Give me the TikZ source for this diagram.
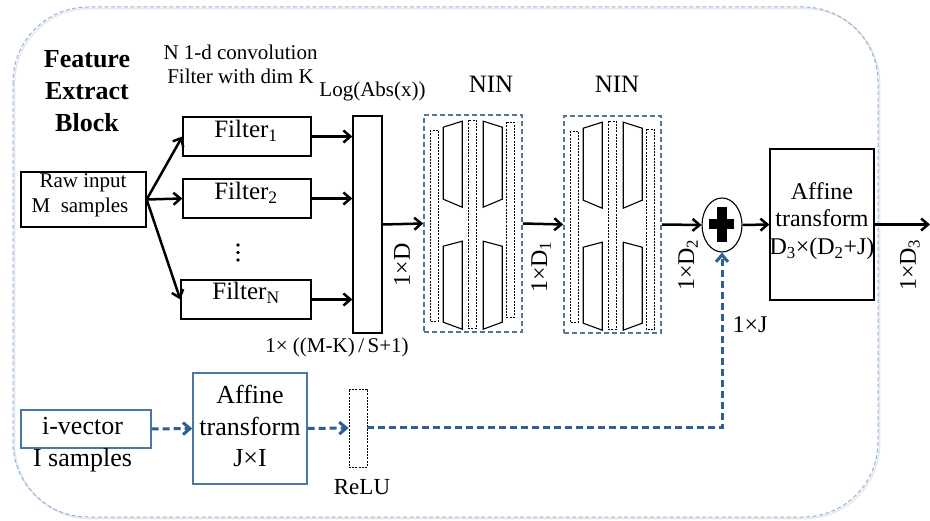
\documentclass[tikz,border=0pt]{standalone}
\usepackage{fontspec}
\setmainfont{Liberation Serif}
\usetikzlibrary{arrows.meta,shapes.geometric}
\definecolor{outerblue}{RGB}{141,180,226}
\definecolor{ninblue}{RGB}{88,118,152}
\definecolor{pathblue}{RGB}{46,94,148}
\definecolor{boxblue}{RGB}{74,118,168}

% slats and funnels inside one NIN block; #1 = block node, #2/#3 = top/bottom of last slat
\newcommand\ninparts[3]{%
  \begin{scope}[shift={(#1.north west)}]
    \draw[slat] (7,16) rectangle (15,207);
    \draw[funnel] (20,13) -- (39,7) -- (39,93) -- (20,85) -- cycle;
    \draw[funnel] (20,132) -- (39,127) -- (39,215) -- (20,208) -- cycle;
    \draw[slat] (45,6) rectangle (53,214);
    \draw[funnel] (60,7) -- (79,13) -- (79,85) -- (60,93) -- cycle;
    \draw[funnel] (60,127) -- (79,132) -- (79,208) -- (60,215) -- cycle;
    \draw[slat] (83,#2) rectangle (91,#3);
  \end{scope}}

\begin{document}
\begin{tikzpicture}[x=1pt,y=-1pt,
  blk/.style={draw=black,line width=1.3pt,inner sep=0pt,fill=white},
  bbox/.style={draw=boxblue,line width=1.4pt,inner sep=0pt,fill=white},
  sz/.style 2 args={minimum width=#1pt,minimum height=#2pt},
  ninbox/.style={draw=ninblue,line width=1.6pt,dash pattern=on 5pt off 3pt,inner sep=0pt},
  slat/.style={draw=black,line width=0.8pt,dash pattern=on 2pt off 1.2pt},
  funnel/.style={draw=black,line width=1.1pt},
  arr/.style={-{Straight Barb[length=7pt,width=12pt]},line width=2.5pt},
  darr/.style={-{Straight Barb[length=7pt,width=12pt]},draw=pathblue,line width=3pt,dash pattern=on 7pt off 4pt},
  tx/.style={font=\fontsize{#1}{#1}\selectfont,inner sep=0pt,anchor=base},
  rt/.style={font=\fontsize{24}{24}\selectfont,inner sep=0pt,rotate=90,anchor=center},
  hd/.style={font=\fontsize{26}{26}\selectfont\bfseries,inner sep=0pt,anchor=base}]

\useasboundingbox (0,0) rectangle (930,521);
\fill[white] (0,0) rectangle (930,521);

% outer frame of the feature extraction block, with a faint shadow
\draw[black!9,line width=1.6pt,rounded corners=75pt] (14.5,8.5) rectangle (879.5,518.5);
\draw[outerblue,line width=1pt,dash pattern=on 4pt off 2.5pt,rounded corners=75pt] (13,7) rectangle (878,517);

% title
\node[hd] (h1) at (87,68) {Feature};
\node[hd] (h2) at (87,100) {Extract};
\node[hd] (h3) at (87,132) {Block};

% top captions
\node[tx=21] (c1) at (240.5,60) {N 1-d convolution};
\node[tx=21] (c2) at (240.5,84) {Filter with dim K};
\node[tx=21] (c3) at (372.5,97) {Log(Abs(x))};
\node[tx=25] (n1t) at (491,93) {NIN};
\node[tx=25] (n2t) at (617,93) {NIN};

% raw input and filter bank
\node[blk,sz={125}{55}] (raw) at (83.5,199.5) {};
\node[tx=21] (raw1) at (83,188) {Raw input};
\node[tx=21] (raw2) at (80,213) {M\ \ samples};

\node[blk,sz={128}{39}] (f1) at (247,136.5) {};
\node[blk,sz={128}{39}] (f2) at (247,198.5) {};
\node[blk,sz={130}{39}] (fn) at (246,299.5) {};
\node[tx=25] (f1t) at (246,138) {Filter\textsubscript{1}};
\node[tx=25] (f2t) at (246,200) {Filter\textsubscript{2}};
\node[tx=25] (fnt) at (246,300) {Filter\textsubscript{N}};
% vertical ellipsis between the filters
\foreach \yy in {245,252.5,260} \fill[black] (238,\yy) circle (1.9pt);

\draw[arr] (raw.east) -- (f1.west);
\draw[arr] (raw.east) -- (f2.west);
\draw[arr] (raw.east) -- (fn.west);

% log-abs layer
\node[blk,sz={29}{217}] (lg) at (367.5,224.5) {};
\draw[arr] (f1.east) -- (f1.east -| lg.west);
\draw[arr] (f2.east) -- (f2.east -| lg.west);
\draw[arr] (fn.east) -- (fn.east -| lg.west);
\node[tx=21] (lgsz) at (337,353) {1× ((M-K)\,/\,S+1)};

% NIN blocks
\node[ninbox,sz={98}{217}] (nin1) at (473,223.5) {};
\node[ninbox,sz={97}{217}] (nin2) at (612.5,224.5) {};
\ninparts{nin1}{8}{203}
\ninparts{nin2}{14}{214}

\draw[arr] (lg.east) -- (nin1.west);
\node[rt] (d0) at (402,265) {1×D};
\draw[arr] (nin1.east) -- (nin2.west);
\node[rt] (d1) at (541,267) {1×D\textsubscript{1}};

% summation node
\node[draw=black,line width=1.1pt,ellipse,inner sep=0pt,sz={40}{54},fill=white] (plus) at (722,225) {};
\fill[black] (709,219.5) rectangle (734,229.5);
\fill[black] (717,207) rectangle (727,242);
\draw[arr] (nin2.east) -- (plus.west);
\node[rt] (d2) at (688,265) {1×D\textsubscript{2}};

% output affine transform
\node[blk,sz={104}{151}] (aff2) at (822,224.5) {};
\node[tx=24] (a21) at (822,200) {Affine};
\node[tx=24] (a22) at (822,227) {transform};
\node[tx=24] (a23) at (822,255) {D\textsubscript{3}×(D\textsubscript{2}+J)};
\draw[arr] (plus.east) -- (aff2.west);
\coordinate (out) at (930,224.5);
\draw[arr] (aff2.east) -- (out);
\node[rt] (d3) at (910,265) {1×D\textsubscript{3}};

% i-vector branch
\node[bbox,sz={130}{38}] (iv) at (86,429) {};
\node[tx=26] (iv1) at (82.5,435) {i-vector};
\node[tx=26] (iv2) at (82.5,467) {I samples};

\node[bbox,sz={114}{111}] (aff1) at (250,428.5) {};
\node[tx=26] (a11) at (250,404) {Affine};
\node[tx=26] (a12) at (250,436) {transform};
\node[tx=26] (a13) at (250,467) {J×I};

\node[draw=black,line width=0.8pt,dash pattern=on 2pt off 1.2pt,inner sep=0pt,sz={18}{78}] (relu) at (358,428) {};
\node[tx=23] (relut) at (362,495) {ReLU};

\draw[darr] (iv.east) -- (aff1.west);
\draw[darr] (aff1.east) -- (relu.west);
\draw[darr] (relu.east) -| (plus.south);
\node[tx=24] (jlab) at (750,333) {1×J};

\end{tikzpicture}
\end{document}
